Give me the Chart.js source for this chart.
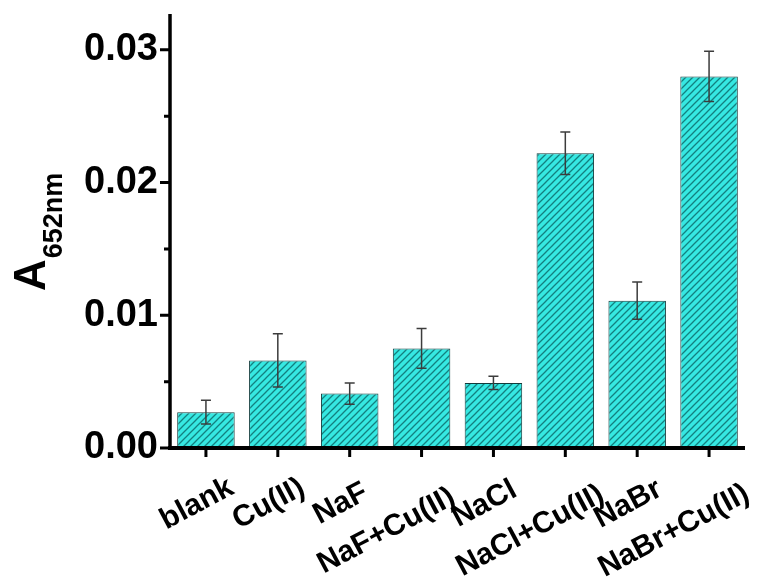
<!DOCTYPE html>
<html>
<head>
<meta charset="utf-8">
<script src="https://cdn.jsdelivr.net/npm/chart.js@4.4.1/dist/chart.umd.min.js"></script>
<style>
  html, body { margin: 0; padding: 0; background: #ffffff; }
  #wrap { width: 765px; height: 579px; }
</style>
</head>
<body>
<div id="wrap"><canvas id="c" width="765" height="579"></canvas></div>
<script>
// Absorbance at 652 nm for each sample, with standard deviations
const categories = ['blank', 'Cu(II)', 'NaF', 'NaF+Cu(II)', 'NaCl', 'NaCl+Cu(II)', 'NaBr', 'NaBr+Cu(II)'];
const absorbance = [0.0027, 0.0066, 0.0041, 0.0075, 0.0049, 0.0222, 0.0111, 0.0280];
const absorbanceErr = [0.0009, 0.0020, 0.0008, 0.0015, 0.0005, 0.0016, 0.0014, 0.0019];
const yTickValues = [0, 0.01, 0.02, 0.03];
const yTickLabels = ['0.00', '0.01', '0.02', '0.03'];
const yMinorTickValues = [0.005, 0.015, 0.025];
// single-salt labels sit on the upper row, mixtures on the lower row
const labelRows = [0, 0, 0, 1, 0, 1, 0, 1];

const FONT = '"Liberation Sans", Arial, Helvetica, sans-serif';

// Diagonal hatch fill for the bars
function makeHatch() {
  const s = 7;
  const t = document.createElement('canvas');
  t.width = s; t.height = s;
  const g = t.getContext('2d');
  g.fillStyle = '#36e8e2';
  g.fillRect(0, 0, s, s);
  g.strokeStyle = '#13807f';
  g.lineWidth = 1.3;
  g.beginPath();
  g.moveTo(-1, s + 1); g.lineTo(s + 1, -1);
  g.moveTo(-1, 1); g.lineTo(1, -1);
  g.moveTo(s - 1, s + 1); g.lineTo(s + 1, s - 1);
  g.stroke();
  return g.createPattern(t, 'repeat');
}

const decorations = {
  id: 'decorations',
  afterDatasetsDraw(chart) {
    const { ctx, chartArea: a, scales: { x, y } } = chart;
    ctx.save();

    // error bars
    ctx.strokeStyle = '#3c3c3c';
    ctx.lineWidth = 1.5;
    absorbance.forEach((v, i) => {
      const px = x.getPixelForValue(i);
      const top = y.getPixelForValue(v + absorbanceErr[i]);
      const bot = y.getPixelForValue(v - absorbanceErr[i]);
      ctx.beginPath();
      ctx.moveTo(px, bot); ctx.lineTo(px, top);
      ctx.moveTo(px - 5, top); ctx.lineTo(px + 5, top);
      ctx.moveTo(px - 5, bot); ctx.lineTo(px + 5, bot);
      ctx.stroke();
    });

    // axis lines
    ctx.strokeStyle = '#000';
    ctx.lineCap = 'butt';
    ctx.lineWidth = 3.5;
    ctx.beginPath();
    ctx.moveTo(a.left, a.top); ctx.lineTo(a.left, a.bottom + 2);
    ctx.stroke();
    ctx.lineWidth = 4;
    ctx.beginPath();
    ctx.moveTo(a.left - 2, a.bottom); ctx.lineTo(a.right, a.bottom);
    ctx.stroke();

    // y ticks (major and minor)
    ctx.lineWidth = 3;
    ctx.beginPath();
    yTickValues.forEach(v => {
      const py = y.getPixelForValue(v);
      ctx.moveTo(a.left - 10, py); ctx.lineTo(a.left, py);
    });
    yMinorTickValues.forEach(v => {
      const py = y.getPixelForValue(v);
      ctx.moveTo(a.left - 6, py); ctx.lineTo(a.left, py);
    });
    ctx.stroke();

    // x ticks
    ctx.beginPath();
    categories.forEach((c, i) => {
      const px = x.getPixelForValue(i);
      ctx.moveTo(px, a.bottom); ctx.lineTo(px, a.bottom + 9);
    });
    ctx.stroke();

    // rotated category labels in two rows
    ctx.fillStyle = '#000';
    ctx.font = 'bold 30px ' + FONT;
    ctx.textAlign = 'center';
    ctx.textBaseline = 'middle';
    categories.forEach((c, i) => {
      const px = x.getPixelForValue(i);
      const row = labelRows[i];
      ctx.save();
      ctx.translate(px - 9 - row * 26, a.bottom + 56 + row * 27);
      ctx.rotate(-28 * Math.PI / 180);
      ctx.fillText(c, 0, 0);
      ctx.restore();
    });

    // y axis title: A with subscript 652nm
    ctx.save();
    ctx.translate(45, 291);
    ctx.rotate(-Math.PI / 2);
    ctx.textAlign = 'left';
    ctx.textBaseline = 'alphabetic';
    ctx.font = 'bold 44px ' + FONT;
    ctx.fillText('A', 0, 0);
    const w = ctx.measureText('A').width;
    ctx.font = 'bold 27px ' + FONT;
    ctx.fillText('652nm', w + 1, 17);
    ctx.restore();

    ctx.restore();
  }
};

new Chart(document.getElementById('c'), {
  type: 'bar',
  data: {
    labels: categories,
    datasets: [{
      data: absorbance,
      backgroundColor: makeHatch(),
      borderColor: '#123c3c',
      borderWidth: 1,
      barPercentage: 0.8,
      categoryPercentage: 1.0
    }]
  },
  options: {
    responsive: false,
    animation: false,
    devicePixelRatio: 1,
    layout: { padding: { top: 14, right: 20, left: 0, bottom: 0 } },
    plugins: { legend: { display: false }, tooltip: { enabled: false } },
    scales: {
      x: {
        grid: { display: false, drawTicks: false },
        border: { display: false },
        ticks: { display: false },
        afterFit(s) { s.height = 131; s.paddingLeft = 0; s.paddingRight = 0; }
      },
      y: {
        min: 0,
        max: 0.0327,
        grid: { display: false, drawTicks: false },
        border: { display: false },
        afterBuildTicks(s) { s.ticks = yTickValues.map(v => ({ value: v })); },
        ticks: {
          padding: 12,
          color: '#000',
          font: { family: FONT, weight: 'bold', size: 38 },
          callback: (v) => yTickLabels[yTickValues.indexOf(v)] ?? ''
        },
        afterFit(s) { s.width = 170; s.paddingTop = 0; s.paddingBottom = 0; }
      }
    }
  },
  plugins: [decorations]
});
</script>
</body>
</html>
